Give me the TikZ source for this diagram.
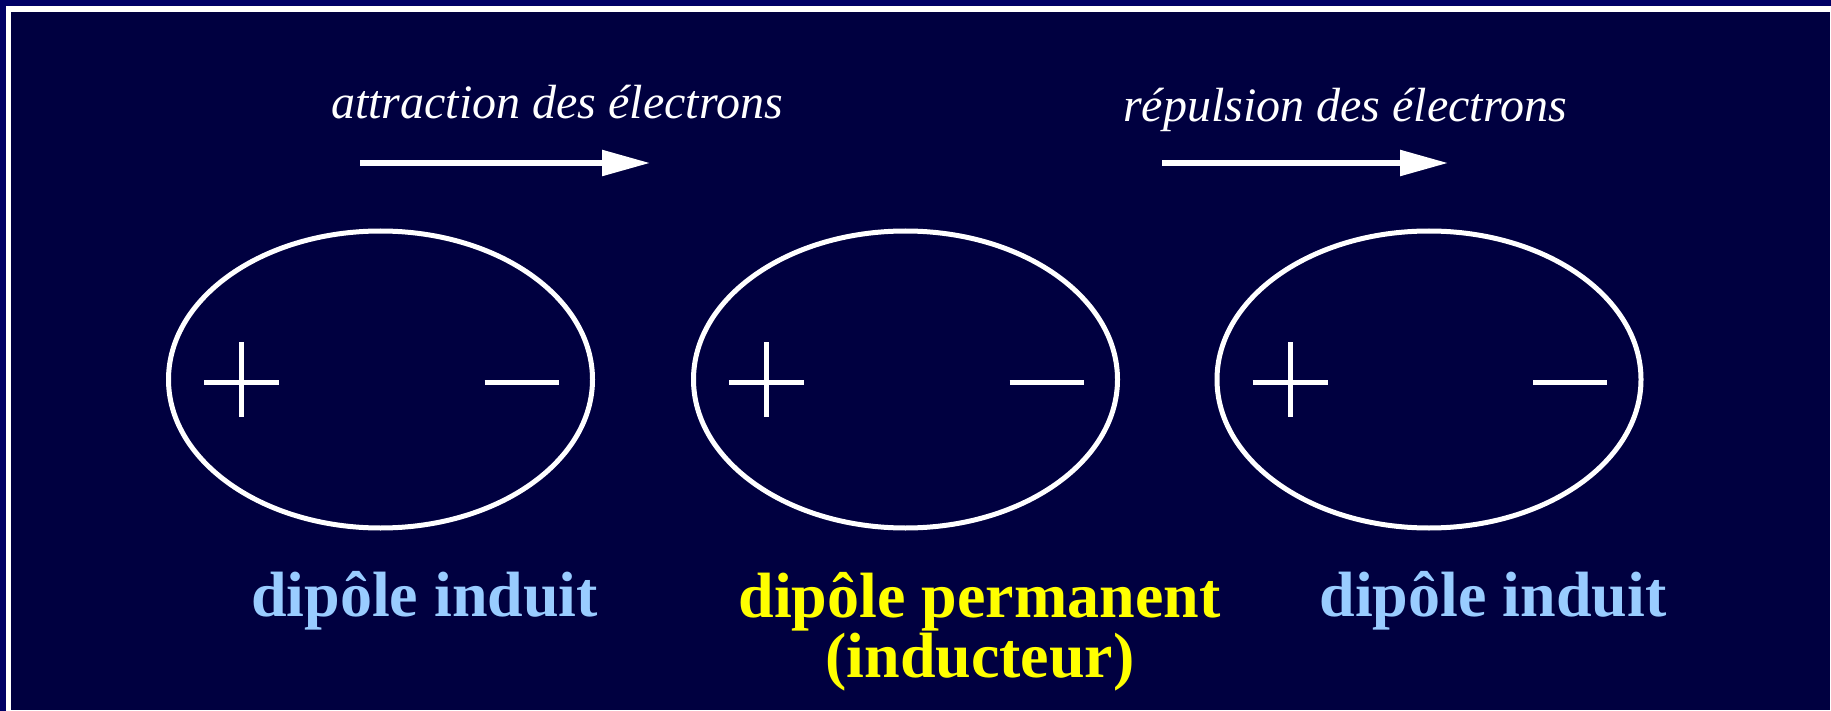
\documentclass[tikz,border=0pt]{standalone}
\usepackage{fontspec}
\setmainfont{Liberation Serif}
\usetikzlibrary{arrows.meta,shapes.geometric}
\definecolor{outerblue}{RGB}{0,0,102}
\definecolor{innerblue}{RGB}{0,0,64}
\definecolor{induitblue}{RGB}{153,204,255}
\definecolor{permyellow}{RGB}{255,255,0}
\tikzset{
  molecule/.style={ellipse, draw=white, line width=2.5pt, minimum width=212pt, minimum height=148.5pt, inner sep=0pt},
  charge/.style={draw=white, line width=2.5pt},
  flowarrow/.style={draw=white, line width=2.75pt, -{Triangle[length=24pt,width=12.5pt]}},
  flowlabel/.style={text=white, font=\fontsize{24}{28}\selectfont\itshape, anchor=base, inner sep=0pt},
  induitlabel/.style={text=induitblue, font=\fontsize{32}{36}\selectfont\bfseries, anchor=base, inner sep=0pt},
  permlabel/.style={text=permyellow, font=\fontsize{32}{36}\selectfont\bfseries, anchor=base, inner sep=0pt}
}
\begin{document}
\begin{tikzpicture}[x=0.5pt,y=-0.5pt]
\useasboundingbox (0,0) rectangle (1831,711);
\fill[outerblue] (0,0) rectangle (1831,711);
\fill[white] (6,6) rectangle (1831,711);
\fill[innerblue] (11,12) rectangle (1830,710);

% ellipses
\node[molecule] (m1) at (380.5,379.5) {};
\node[molecule] (m2) at (905.5,379.5) {};
\node[molecule] (m3) at (1429,379.5) {};

% charges
\foreach \m in {m1,m2,m3}{
  \draw[charge] ([xshift=-176.5*0.5pt,yshift=-2.5*0.5pt]\m.center) -- ([xshift=-101.5*0.5pt,yshift=-2.5*0.5pt]\m.center);
  \draw[charge] ([xshift=-139*0.5pt,yshift=37.5*0.5pt]\m.center) -- ([xshift=-139*0.5pt,yshift=-37.5*0.5pt]\m.center);
  \draw[charge] ([xshift=104*0.5pt,yshift=-2.5*0.5pt]\m.center) -- ([xshift=178*0.5pt,yshift=-2.5*0.5pt]\m.center);
}

% arrows
\coordinate (a1s) at (360,163);
\coordinate (a1e) at (650,163);
\coordinate (a2s) at (1162,163);
\coordinate (a2e) at (1448,163);
\draw[flowarrow] (a1s) -- (a1e);
\draw[flowarrow] (a2s) -- (a2e);

\node[flowlabel] (t1) at (557,119) {attraction des électrons};
\node[flowlabel] (t2) at (1345,122) {répulsion des électrons};

% labels
\node[induitlabel] (l1) at (424.5,616) {dipôle induit};
\node[permlabel] (l2) at (979.5,617) {dipôle permanent};
\node[permlabel] (l2b) at (980,677) {(inducteur)};
\node[induitlabel] (l3) at (1493,616) {dipôle induit};
\end{tikzpicture}
\end{document}
